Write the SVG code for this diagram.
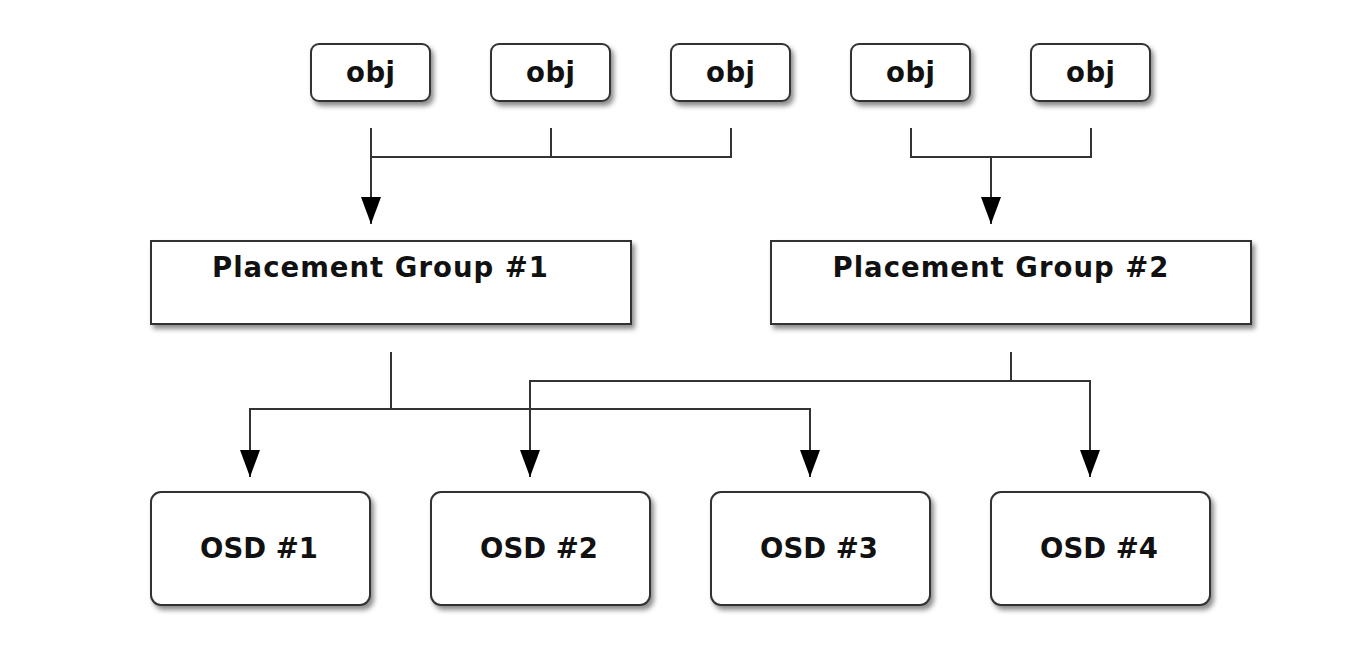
<svg xmlns="http://www.w3.org/2000/svg" width="1368" height="654" viewBox="0 0 1368 654">
<defs>
<filter id="sh" x="-10%" y="-10%" width="130%" height="140%">
<feDropShadow dx="3" dy="4" stdDeviation="2.5" flood-color="#000" flood-opacity="0.45"/>
</filter>
<marker id="ah" markerWidth="27" markerHeight="20" refX="27" refY="10" orient="auto" markerUnits="userSpaceOnUse" viewBox="0 0 27 20">
<path d="M0,0 L27,10 L0,20 Z" fill="#000"/>
</marker>
</defs>
<style>
.box{fill:#fff;stroke:#333;stroke-width:2;filter:url(#sh)}
.t{font-family:"DejaVu Sans",sans-serif;font-weight:bold;font-size:27.5px;fill:#111;text-anchor:middle}
.ln{fill:none;stroke:#333;stroke-width:2}
.ar{fill:none;stroke:#333;stroke-width:2}
</style>
<rect width="1368" height="654" fill="#fff"/>
<g id="obj1"><rect class="box" x="311" y="44" width="119" height="57" rx="8"/><text class="t" x="370.5" y="82" textLength="49" lengthAdjust="spacing">obj</text></g>
<g id="obj2"><rect class="box" x="491" y="44" width="119" height="57" rx="8"/><text class="t" x="550.5" y="82" textLength="49" lengthAdjust="spacing">obj</text></g>
<g id="obj3"><rect class="box" x="671" y="44" width="119" height="57" rx="8"/><text class="t" x="730.5" y="82" textLength="49" lengthAdjust="spacing">obj</text></g>
<g id="obj4"><rect class="box" x="851" y="44" width="119" height="57" rx="8"/><text class="t" x="910.5" y="82" textLength="49" lengthAdjust="spacing">obj</text></g>
<g id="obj5"><rect class="box" x="1031" y="44" width="119" height="57" rx="8"/><text class="t" x="1090.5" y="82" textLength="49" lengthAdjust="spacing">obj</text></g>
<g id="pg1"><rect class="box" x="151" y="241" width="480" height="83"/><text class="t" x="380" y="277" textLength="336" lengthAdjust="spacing">Placement Group #1</text></g>
<g id="pg2"><rect class="box" x="771" y="241" width="480" height="83"/><text class="t" x="1000.5" y="277" textLength="336" lengthAdjust="spacing">Placement Group #2</text></g>
<g id="osd1"><rect class="box" x="151" y="492" width="219" height="113" rx="10"/><text class="t" x="259" y="558" textLength="118" lengthAdjust="spacing">OSD #1</text></g>
<g id="osd2"><rect class="box" x="431" y="492" width="219" height="113" rx="10"/><text class="t" x="539" y="558" textLength="118" lengthAdjust="spacing">OSD #2</text></g>
<g id="osd3"><rect class="box" x="711" y="492" width="219" height="113" rx="10"/><text class="t" x="819" y="558" textLength="118" lengthAdjust="spacing">OSD #3</text></g>
<g id="osd4"><rect class="box" x="991" y="492" width="219" height="113" rx="10"/><text class="t" x="1099" y="558" textLength="118" lengthAdjust="spacing">OSD #4</text></g>
<g id="connectors">
<path class="ln" d="M551,128 V157 M731,128 V157 H371 M371,128 V157"/>
<path class="ar" d="M371,157 V224" marker-end="url(#ah)"/>
<path class="ln" d="M911,128 V157 H1091 V128"/>
<path class="ar" d="M991,157 V224" marker-end="url(#ah)"/>
<path class="ln" d="M391,352 V409"/>
<path class="ar" d="M391,409 H250 V477" marker-end="url(#ah)"/>
<path class="ar" d="M391,409 H810 V477" marker-end="url(#ah)"/>
<path class="ln" d="M1011,352 V381"/>
<path class="ar" d="M1011,381 H530 V477" marker-end="url(#ah)"/>
<path class="ar" d="M1011,381 H1090 V477" marker-end="url(#ah)"/>
</g>
</svg>
